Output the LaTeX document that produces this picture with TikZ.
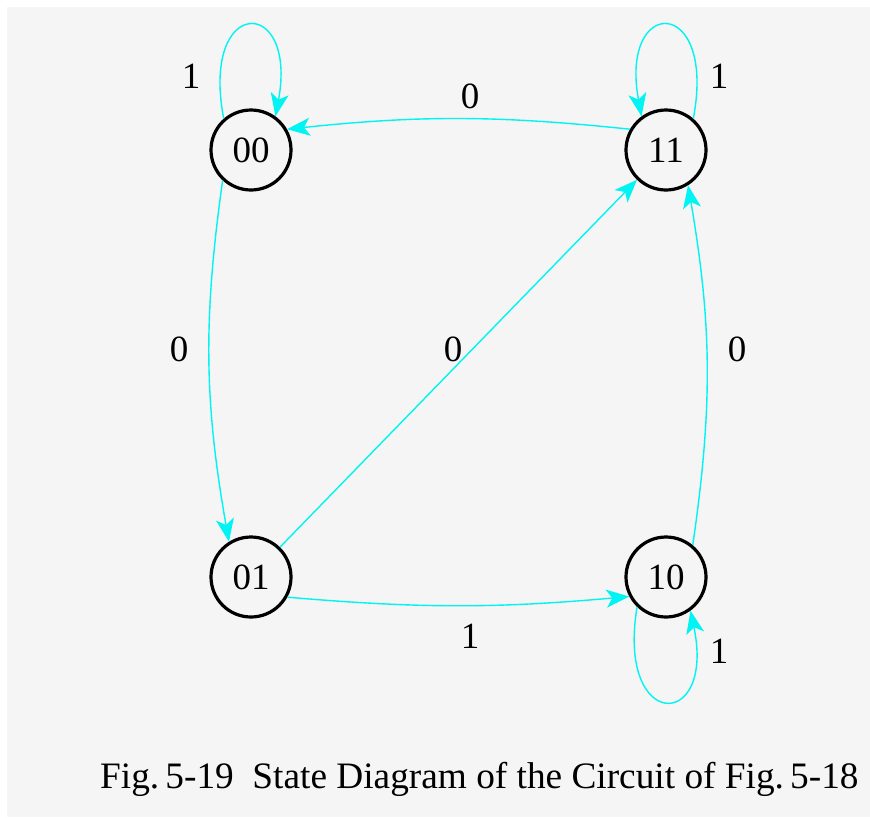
\documentclass[tikz,border=0pt]{standalone}
\usepackage{fontspec}
\setmainfont{Liberation Serif}
\usetikzlibrary{arrows.meta}
\definecolor{bggray}{HTML}{F5F5F5}
\definecolor{edgecyan}{HTML}{00F4F4}
\tikzset{
  state/.style={circle, draw=black, line width=3.2pt, minimum size=80pt, inner sep=0pt, font=\fontsize{37}{40}\selectfont},
  edge/.style={draw=edgecyan, line width=1.4pt, -{Stealth[length=23pt,width=18pt,inset=6pt]}},
  lbl/.style={font=\fontsize{37}{40}\selectfont, inner sep=0pt},
}
\begin{document}
\begin{tikzpicture}[x=1pt,y=-1pt]
\useasboundingbox (0,0) rectangle (870,817);
\fill[white] (0,0) rectangle (870,817);
\fill[bggray] (7,7) rectangle (870,817);

\node[state] (n00) at (251,150) {00};
\node[state] (n11) at (666,150) {11};
\node[state] (n01) at (251,577) {01};
\node[state] (n10) at (666,577) {10};

% self loops
\draw[edge] (n00.131) .. controls (200,-5) and (298,-5) .. (n00.54);
\draw[edge] (n11.49) .. controls (717,-5) and (619,-5) .. (n11.126);
\draw[edge] (n10.226) .. controls (616,732) and (716,732) .. (n10.306);

% transitions
\draw[edge] (n11.150) to[bend right=6] (n00.30);
\draw[edge] (n00.227) to[bend right=9] (n01.122);
\draw[edge] (n01.331) to[bend right=5] (n10.208);
\draw[edge] (n10.50) to[bend right=9] (n11.302);
\draw[edge] (n01) -- (n11);

% labels
\node[lbl] (l1) at (191,76) {1};
\node[lbl] (l2) at (470,96) {0};
\node[lbl] (l3) at (719,76) {1};
\node[lbl] (l4) at (179,349) {0};
\node[lbl] (l5) at (453,349) {0};
\node[lbl] (l6) at (737,349) {0};
\node[lbl] (l7) at (470,636) {1};
\node[lbl] (l8) at (719,651) {1};

\node[lbl, anchor=west, font=\fontsize{37.3}{40}\selectfont] (cap) at (100,779) {Fig.\,5-19\ \ State Diagram of the Circuit of Fig.\,5-18};
\end{tikzpicture}
\end{document}
